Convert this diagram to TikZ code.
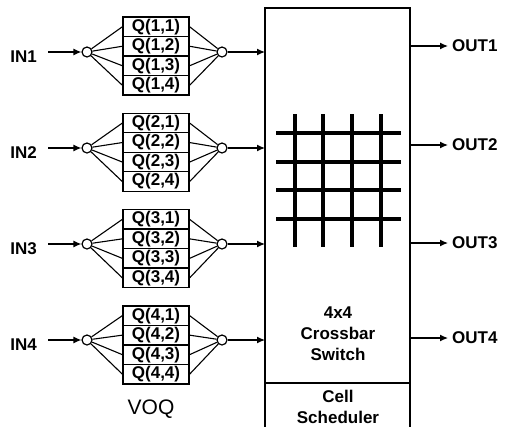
\documentclass[tikz,border=0pt]{standalone}
\usepackage{fontspec}
\setmainfont{Liberation Sans}
\usetikzlibrary{arrows.meta}
\begin{document}
\begin{tikzpicture}[x=1pt,y=-1pt,
  arr/.style={line width=1.2pt,-{Latex[length=8pt,width=7pt]}},
  qbox/.style={draw,line width=1.3pt,minimum width=66pt,minimum height=19.5pt,inner sep=0pt,
     font=\fontsize{17}{17}\selectfont\bfseries},
  joint/.style={draw,circle,line width=1.2pt,minimum size=10pt,inner sep=0pt,fill=white},
  fan/.style={line width=1.1pt},
  grid/.style={line width=3.4pt},
  inlabel/.style={font=\fontsize{17}{17}\selectfont\bfseries,inner sep=0pt},
  outlabel/.style={font=\fontsize{17}{17}\selectfont\bfseries,inner sep=0pt,anchor=west},
  swtext/.style={font=\fontsize{17}{21}\selectfont\bfseries,align=center,inner sep=0pt}]
\useasboundingbox (0,0) rectangle (514,426);
\clip (0,0) rectangle (514,426);
% switch box
\coordinate (swL) at (265,8);
\coordinate (swR) at (410,8);
\draw[line width=1.4pt] (265,440) -- (swL) -- (swR) -- (410,440);
\draw[line width=1.4pt] (265,383) -- (410,383);
% crossbar grid
\foreach \x in {295,323,352,381} \draw[grid] (\x,114) -- (\x,247);
\foreach \y in {133,162,190,219} \draw[grid] (276,\y) -- (401,\y);
\node[swtext] (swlabel) at (338,334) {4x4\\Crossbar\\Switch};
\node[swtext] (sched) at (338,406.5) {Cell\\Scheduler};
% VOQ groups
\foreach \i in {1,2,3,4} {
  \pgfmathsetmacro{\cy}{52+96*(\i-1)}
  \pgfmathsetmacro{\by}{17+96.3*(\i-1)}
  \node[joint] (l\i) at (87,\cy) {};
  \node[joint] (r\i) at (222,\cy) {};
  \foreach \j in {1,2,3,4} {
    \node[qbox] (q\i\j) at (156,{\by+19.5*(\j-0.5)}) {Q(\i,\j)};
    \draw[fan] (l\i) -- (q\i\j.west);
    \draw[fan] (q\i\j.east) -- (r\i);
  }
  \node[inlabel,anchor=base east] (in\i) at (37,{\cy+10}) {IN\i};
  \draw[arr] ([xshift=11pt]in\i.east |- l\i) -- (l\i);
  \draw[arr] (r\i) -- (r\i -| swL);
}
% outputs
\node[outlabel] (o1) at (452,46) {OUT1};
\node[outlabel] (o2) at (452,145) {OUT2};
\node[outlabel] (o3) at (452,243) {OUT3};
\node[outlabel] (o4) at (452,338) {OUT4};
\foreach \k in {1,2,3,4} \draw[arr] (swR |- o\k.west) -- ([xshift=-4pt]o\k.west);
\node[font=\fontsize{21}{21}\selectfont,inner sep=0pt] (voq) at (151,409) {VOQ};
\end{tikzpicture}
\end{document}
